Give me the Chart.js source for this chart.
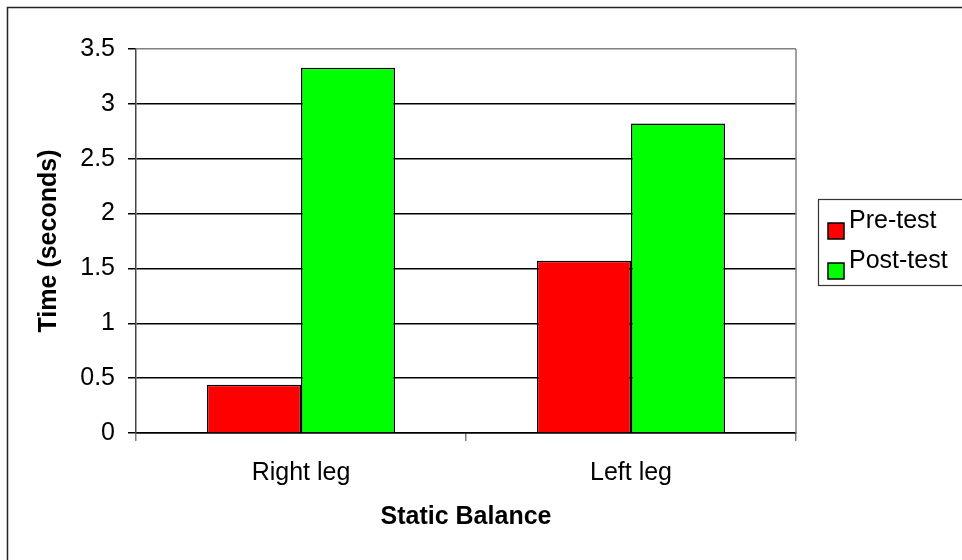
<!DOCTYPE html>
<html>
<head>
<meta charset="utf-8">
<script src="https://cdn.jsdelivr.net/npm/chart.js@4"></script>
<style>
  html, body { margin: 0; padding: 0; background: #fff; }
  canvas { display: block; }
</style>
</head>
<body>
<canvas id="chart" width="962" height="560"></canvas>
<script>
// data
const categories = ['Right leg', 'Left leg'];
const preTest = [0.44, 1.57];
const postTest = [3.33, 2.82];
const seriesNames = ['Pre-test', 'Post-test'];
const seriesColors = ['#ff0000', '#00ff00'];

const FONT = '"Liberation Sans", Arial, sans-serif';

// outer frame, plot frame and legend
const framePlugin = {
    id: 'frame',
    beforeDraw(chart) {
        const c = chart.ctx;
        c.save();
        c.fillStyle = '#fff';
        c.fillRect(0, 0, chart.width, chart.height);
        c.restore();
    },
    afterDraw(chart) {
        const c = chart.ctx;
        const a = chart.chartArea;
        c.save();
        // outer border (runs off right and bottom)
        c.strokeStyle = '#222';
        c.lineWidth = 1.5;
        c.beginPath();
        c.moveTo(7.5, chart.height + 2);
        c.lineTo(7.5, 7.5);
        c.lineTo(chart.width + 2, 7.5);
        c.stroke();

        // plot area right edge
        c.strokeStyle = '#808080';
        c.lineWidth = 1.5;
        c.beginPath();
        c.moveTo(a.right, a.top);
        c.lineTo(a.right, a.bottom);
        c.stroke();

        // legend box
        c.strokeStyle = '#333';
        c.lineWidth = 1.2;
        c.strokeRect(818.5, 199.5, 200, 86);

        c.font = '25px ' + FONT;
        c.textBaseline = 'middle';
        chart.data.datasets.forEach((ds, i) => {
            const y = 221 + i * 40;
            c.fillStyle = ds.backgroundColor;
            c.fillRect(828, y + 2, 16, 16);
            c.strokeStyle = '#000';
            c.lineWidth = 1.5;
            c.strokeRect(828, y + 2, 16, 16);
            c.fillStyle = '#000';
            c.fillText(ds.label, 849, y);
        });
        c.restore();
    }
};

new Chart(document.getElementById('chart'), {
    type: 'bar',
    data: {
        labels: categories,
        datasets: [
            {
                label: seriesNames[0],
                data: preTest,
                backgroundColor: seriesColors[0],
                borderColor: '#000',
                borderWidth: 1.5
            },
            {
                label: seriesNames[1],
                data: postTest,
                backgroundColor: seriesColors[1],
                borderColor: '#000',
                borderWidth: 1.5
            }
        ]
    },
    options: {
        responsive: false,
        animation: false,
        datasets: {
            bar: { categoryPercentage: 0.57, barPercentage: 1 }
        },
        layout: { padding: { left: 0, top: 49, right: 166, bottom: 0 } },
        plugins: {
            legend: { display: false },
            tooltip: { enabled: false }
        },
        scales: {
            x: {
                afterFit: s => { s.height = 127; },
                grid: {
                    drawOnChartArea: false,
                    drawTicks: true,
                    tickLength: 8,
                    tickColor: '#808080',
                    lineWidth: 1.5
                },
                border: { display: true, color: '#000', width: 1.5 },
                ticks: {
                    color: '#000',
                    font: { family: FONT, size: 25 },
                    padding: 17
                },
                title: {
                    display: true,
                    text: 'Static Balance',
                    color: '#000',
                    font: { family: FONT, size: 25, weight: 'bold' },
                    padding: { top: 0, bottom: 28 }
                }
            },
            y: {
                min: 0,
                max: 3.5,
                afterFit: s => { s.width = 136; },
                grid: {
                    color: ctx => (ctx.tick && ctx.tick.value === 3.5 ? '#808080' : '#000'),
                    tickColor: '#000',
                    lineWidth: 1.5,
                    tickLength: 8
                },
                border: { display: true, color: '#444', width: 1.5 },
                ticks: {
                    stepSize: 0.5,
                    color: '#000',
                    font: { family: FONT, size: 25 },
                    padding: 13,
                    callback: v => String(v)
                },
                title: {
                    display: true,
                    text: 'Time (seconds)',
                    color: '#000',
                    font: { family: FONT, size: 25, weight: 'bold' },
                    padding: { top: 34, bottom: 0 }
                }
            }
        }
    },
    plugins: [framePlugin]
});
</script>
</body>
</html>
